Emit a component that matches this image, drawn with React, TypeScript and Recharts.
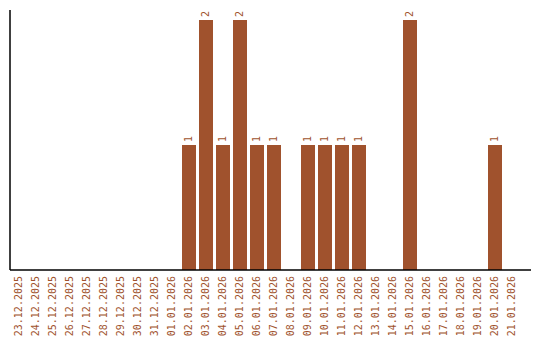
import React from "react";
import { BarChart, Bar, XAxis, YAxis, LabelList } from "recharts";

const dates = [
  "23.12.2025", "24.12.2025", "25.12.2025", "26.12.2025", "27.12.2025",
  "28.12.2025", "29.12.2025", "30.12.2025", "31.12.2025", "01.01.2026",
  "02.01.2026", "03.01.2026", "04.01.2026", "05.01.2026", "06.01.2026",
  "07.01.2026", "08.01.2026", "09.01.2026", "10.01.2026", "11.01.2026",
  "12.01.2026", "13.01.2026", "14.01.2026", "15.01.2026", "16.01.2026",
  "17.01.2026", "18.01.2026", "19.01.2026", "20.01.2026", "21.01.2026",
];
const counts = [
  0, 0, 0, 0, 0, 0, 0, 0, 0, 0,
  1, 2, 1, 2, 1, 1, 0, 1, 1, 1,
  1, 0, 0, 2, 0, 0, 0, 0, 1, 0,
];

const data = dates.map((d, i) => ({ date: d, value: counts[i] }));

const COLOR = "#A0522D";
const FONT = "'DejaVu Sans Mono', monospace";

const Tick = (props: any) => {
  const { x, y, payload } = props;
  return (
    <text
      x={0}
      y={0}
      transform={`translate(${x + 3},${y - 2}) rotate(-90)`}
      textAnchor="end"
      fill={COLOR}
      fontSize={10}
      fontFamily={FONT}
    >
      {payload.value}
    </text>
  );
};

const ValueLabel = (props: any) => {
  const { x, y, width, value } = props;
  if (!value) return null;
  const cx = Number(x) + Number(width) / 2;
  return (
    <text
      x={0}
      y={0}
      transform={`translate(${cx + 3},${Number(y) - 3}) rotate(-90)`}
      textAnchor="start"
      fill={COLOR}
      fontSize={10}
      fontFamily={FONT}
    >
      {value}
    </text>
  );
};

export default function App() {
  return (
    <div style={{ position: "absolute", left: 0, top: 0, background: "#fff" }}>
      <BarChart
        width={540}
        height={340}
        data={data}
        margin={{ top: 10, right: 9, bottom: 0, left: 8 }}
        barSize={14}
      >
        <XAxis
          dataKey="date"
          height={70}
          interval={0}
          tickLine={false}
          axisLine={{ stroke: "#000", strokeWidth: 1.5 }}
          tick={<Tick />}
          padding={{ left: 0, right: 11 }}
        />
        <YAxis
          width={2}
          domain={[0, 2.08]}
          tick={false}
          tickLine={false}
          axisLine={{ stroke: "#000", strokeWidth: 1.5 }}
        />
        <Bar dataKey="value" fill={COLOR} isAnimationActive={false}>
          <LabelList dataKey="value" content={<ValueLabel />} />
        </Bar>
      </BarChart>
    </div>
  );
}
